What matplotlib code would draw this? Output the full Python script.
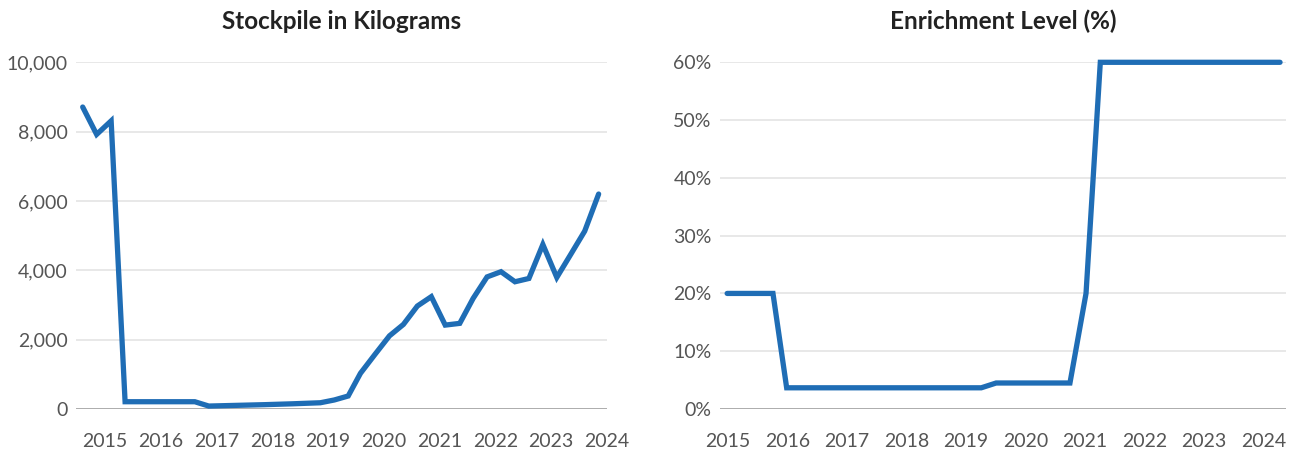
import matplotlib
matplotlib.use("Agg")
import matplotlib.pyplot as plt
from matplotlib.ticker import FuncFormatter

plt.rcParams['font.family'] = ['Lato', 'DejaVu Sans']

# ---- data ----
stock_years = [2014.60, 2014.85, 2015.11, 2015.36, 2015.61, 2015.86, 2016.11, 2016.36,
               2016.61, 2016.86, 2017.36, 2017.86, 2018.36, 2018.86, 2019.11, 2019.36,
               2019.58, 2019.84, 2020.10, 2020.35, 2020.60, 2020.85, 2021.10, 2021.36,
               2021.60, 2021.85, 2022.10, 2022.35, 2022.60, 2022.85, 2023.10, 2023.35,
               2023.60, 2023.85]
stock_kg = [8710, 7920, 8310, 210, 210, 210, 210, 210,
            210, 85, 105, 125, 150, 180, 260, 375,
            1030, 1575, 2110, 2440, 2970, 3240, 2420, 2470,
            3190, 3810, 3960, 3670, 3765, 4745, 3795, 4460,
            5130, 6200]

enrich_years = [2014.99, 2015.76, 2015.99, 2019.26, 2019.51, 2020.75, 2021.02, 2021.26, 2024.28]
enrich_pct = [20, 20, 3.67, 3.67, 4.5, 4.5, 20, 60, 60]

year_ticks = [2015, 2016, 2017, 2018, 2019, 2020, 2021, 2022, 2023, 2024]
stock_ticks = [0, 2000, 4000, 6000, 8000, 10000]
enrich_ticks = [0, 10, 20, 30, 40, 50, 60]

titles = ["Stockpile in Kilograms", "Enrichment Level (%)"]

LINE = "#1f6db5"
GRID = "#e6e6e6"
BASE = "#a6a6a6"
TICK = "#555555"
TITLE = "#222222"

W, H = 1296, 453
fig = plt.figure(figsize=(W / 100, H / 100), dpi=100)

def px_axes(x0, x1, ytop, ybot):
    return fig.add_axes([x0 / W, (H - ybot) / H, (x1 - x0) / W, (ybot - ytop) / H])

ax1 = px_axes(76, 607, 62.3, 409)
ax2 = px_axes(720, 1286, 62.3, 409)

def style(ax, yticks, fmt, title):
    for s in ax.spines.values():
        s.set_visible(False)
    ax.set_yticks(yticks)
    ax.set_xticks(year_ticks)
    ax.yaxis.set_major_formatter(FuncFormatter(fmt))
    ax.tick_params(axis='both', length=0, labelsize=14, labelcolor=TICK)
    ax.tick_params(axis='y', pad=6)
    ax.tick_params(axis='x', pad=17)
    for t in yticks[1:]:
        ax.axhline(t, color=GRID, lw=1.3, zorder=0)
    ax.axhline(0, color=BASE, lw=1.3, zorder=1)
    ax.set_title(title, fontsize=17.5, fontweight='bold', color=TITLE, pad=24)

ax1.plot(stock_years, stock_kg, color=LINE, lw=3.8, solid_joinstyle='miter',
         solid_capstyle='round', zorder=3, clip_on=False)
ax1.set_xlim(2014.48, 2023.96)
ax1.set_ylim(0, 10000)
style(ax1, stock_ticks, lambda v, p: f"{int(v):,}", titles[0])

ax2.plot(enrich_years, enrich_pct, color=LINE, lw=3.8, solid_joinstyle='miter',
         solid_capstyle='round', zorder=3, clip_on=False)
ax2.set_xlim(2014.87, 2024.38)
ax2.set_ylim(0, 60)
style(ax2, enrich_ticks, lambda v, p: f"{int(v)}%", titles[1])

fig.savefig("out.png", dpi=100, facecolor="white")
